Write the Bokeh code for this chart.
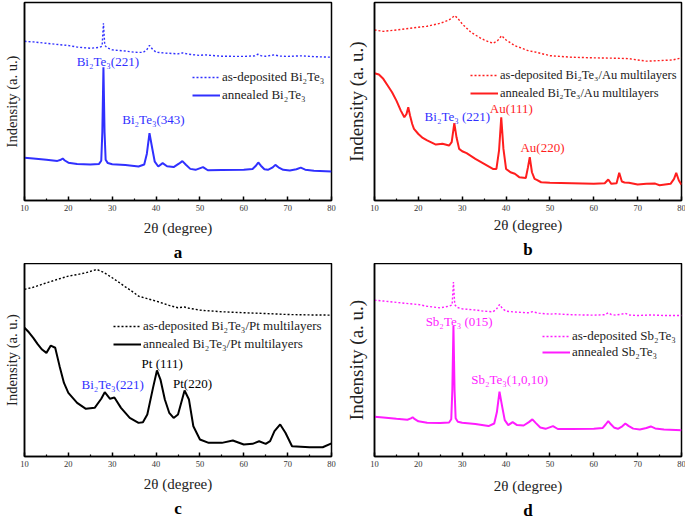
from bokeh.plotting import figure
from bokeh.models import Range1d, FixedTicker, Label, Legend, LegendItem, Title
from bokeh.layouts import column, row
from bokeh.embed import file_html
from bokeh.resources import INLINE

SERIF = "Liberation Serif"

X_TICKS = [10, 20, 30, 40, 50, 60, 70, 80]
X_MINOR = [15, 25, 35, 45, 55, 65, 75]
X_LABEL = "2θ (degree)"
Y_LABEL = "Indensity (a. u.)"

# ---------------- panel a : Bi2Te3 ----------------
a_dep_x = [10, 12, 15, 18, 20, 22, 25, 27, 27.7, 28.0, 28.3, 28.8, 30, 33, 35, 37, 37.8, 38.5, 39.2, 40, 42, 45, 46, 47.5, 50, 51, 55, 60, 62.5, 63.2, 64, 65, 67, 68, 70, 73, 76, 80]
a_dep_y = [80.5, 80.2, 79.5, 78.8, 78.4, 77.6, 77.0, 77.4, 78.0, 89.6, 78.5, 77.3, 76.2, 75.6, 75.0, 74.9, 76.0, 78.4, 76.5, 75.0, 74.6, 74.2, 74.7, 74.0, 73.4, 73.7, 73.0, 72.9, 73.2, 74.0, 73.2, 73.0, 73.7, 73.1, 72.9, 73.2, 72.8, 72.5]
a_ann_x = [10, 12, 15, 17.5, 18.3, 18.7, 19.2, 20, 22, 25, 27, 27.5, 27.75, 28.0, 28.25, 28.5, 29, 30, 33, 36, 37.3, 37.9, 38.5, 39.1, 39.7, 40.5, 41.5, 42.5, 44, 45.2, 46, 46.8, 47.8, 49, 50.7, 51.8, 55, 60, 62, 62.7, 63.3, 63.9, 64.7, 65.5, 66.5, 67.2, 67.9, 69, 70.5, 72, 73, 74, 76, 80]
a_ann_y = [22.0, 21.6, 21.0, 20.4, 21.0, 21.6, 20.6, 19.5, 18.9, 18.6, 18.9, 20.5, 35.0, 67.5, 35.0, 21.0, 19.3, 18.7, 18.3, 17.6, 18.6, 24.0, 34.3, 27.0, 20.0, 17.6, 19.3, 17.7, 17.3, 19.0, 20.3, 18.5, 16.4, 15.9, 17.3, 15.7, 15.8, 15.9, 16.3, 17.8, 19.6, 18.0, 16.2, 15.9, 17.0, 18.4, 17.2, 15.9, 15.6, 16.2, 17.0, 16.0, 15.5, 15.1]
a_legend = ["as-deposited Bi₂Te₃", "annealed Bi₂Te₃"]
a_notes = ["Bi₂Te₃(221)", "Bi₂Te₃(343)"]
a_notes_x = [29.0, 39.4]
a_notes_y = [70.6, 41.1]

# ---------------- panel b : Bi2Te3/Au ----------------
b_dep_x = [10, 12, 15, 18, 20, 22, 25, 27, 28.3, 29, 30, 32, 34, 35, 37, 38, 39, 40, 42, 45, 47, 50, 55, 60, 65, 68, 70, 72, 75, 78, 80]
b_dep_y = [86.4, 85.7, 86.4, 87.2, 87.8, 88.3, 89.8, 91.5, 93.7, 92.3, 89.5, 85.2, 82.5, 81.3, 79.6, 80.8, 83.5, 81.3, 78.4, 75.9, 75.0, 73.3, 72.5, 72.2, 72.0, 71.8, 71.1, 70.5, 70.8, 71.1, 72.2]
b_ann_x = [10, 11, 12, 13, 14, 15, 16, 16.8, 17.3, 17.7, 18.1, 18.6, 19, 20, 21, 22, 24, 25.5, 27, 27.6, 28.2, 28.7, 29.3, 30, 31, 33, 35, 37, 37.8, 38.4, 38.9, 39.4, 40, 41, 42, 43, 44.5, 45.0, 45.4, 45.9, 46.5, 47, 48, 50, 55, 60, 62.5, 63.3, 64, 65.2, 65.8, 66.4, 67, 68, 70, 72, 74, 75, 77.5, 78.3, 78.8, 79.4, 80]
b_ann_y = [64.3, 63.7, 61.5, 58.1, 54.7, 50.4, 45.3, 41.9, 43.6, 47.0, 42.8, 38.5, 36.0, 33.4, 31.4, 30.1, 28.0, 28.4, 27.5, 29.2, 38.9, 31.7, 25.8, 24.6, 23.6, 20.7, 18.2, 15.6, 15.6, 25.0, 41.9, 25.8, 15.6, 13.9, 13.1, 11.4, 11.0, 16.5, 21.6, 13.9, 10.5, 10.0, 8.8, 8.5, 8.3, 8.0, 8.3, 10.2, 8.0, 8.3, 13.6, 9.2, 8.7, 8.5, 7.6, 8.0, 8.1, 7.3, 8.0, 10.5, 13.6, 9.7, 7.6]
b_legend = ["as-deposited Bi₂Te₃/Au multilayers", "annealed Bi₂Te₃/Au multilayers"]
b_notes = ["Bi₂Te₃ (221)", "Au(111)", "Au(220)"]
b_notes_x = [28.9, 41.2, 48.3]
b_notes_y = [42.4, 46.2, 26.5]

# ---------------- panel c : Bi2Te3/Pt ----------------
c_dep_x = [10, 12, 15, 18, 20, 22, 24, 26.5, 28, 30, 33, 35, 36, 38, 40, 43, 45, 46.5, 47, 50, 55, 60, 65, 70, 75, 80]
c_dep_y = [85.7, 86.8, 89.0, 91.1, 92.4, 93.2, 94.1, 95.8, 94.4, 91.6, 87.0, 84.0, 82.3, 81.0, 79.8, 77.6, 76.4, 76.8, 76.4, 75.2, 74.4, 73.9, 73.5, 73.0, 72.8, 72.7]
c_ann_x = [10, 11, 12, 13, 14, 15, 16, 17, 18, 19, 20, 22, 24, 26, 27.5, 28.3, 29.5, 30.5, 32, 34, 36, 37, 38, 39.3, 40.2, 41, 42, 43, 44, 45, 46.5, 47.5, 48.5, 50, 52, 55, 57.5, 60, 62, 63.5, 65, 66, 67, 68.3, 69.5, 71, 75, 78, 80]
c_ann_y = [66.3, 64.0, 61.2, 58.0, 55.3, 53.6, 57.3, 56.2, 46.9, 38.4, 33.4, 28.3, 25.3, 25.8, 30.4, 33.7, 30.4, 31.0, 25.8, 20.7, 18.2, 18.5, 22.4, 35.9, 44.7, 40.1, 30.0, 23.3, 20.7, 22.4, 34.6, 30.0, 16.5, 9.8, 8.1, 8.1, 9.3, 7.3, 7.6, 8.9, 7.6, 9.0, 14.0, 17.4, 13.2, 6.4, 5.9, 5.9, 7.8]
c_legend = ["as-deposited Bi₂Te₃/Pt multilayers", "annealed Bi₂Te₃/Pt multilayers"]
c_notes = ["Bi₂Te₃(221)", "Pt (111)", "Pt(220)"]
c_notes_x = [30.1, 41.4, 48.3]
c_notes_y = [37.6, 48.2, 38.1]

# ---------------- panel d : Sb2Te3 ----------------
d_dep_x = [10, 12, 15, 18, 20, 22, 25, 27, 27.7, 28.0, 28.3, 28.8, 30, 33, 35, 37, 37.8, 38.5, 39.2, 40, 42, 45, 46, 47.5, 50, 51, 55, 60, 62.5, 63.3, 64, 65, 67.2, 68, 70, 73, 76, 80]
d_dep_y = [80.6, 80.2, 79.5, 78.8, 78.4, 77.5, 76.7, 77.6, 78.2, 89.8, 78.3, 77.0, 76.2, 75.6, 75.0, 74.7, 76.0, 78.4, 76.3, 75.0, 74.6, 74.2, 74.7, 74.0, 73.5, 73.7, 73.2, 73.0, 73.2, 74.2, 73.3, 73.0, 73.9, 73.1, 72.8, 73.1, 72.8, 72.8]
d_ann_x = [10, 12, 15, 17.5, 18.3, 18.7, 19.2, 20, 22, 25, 27, 27.5, 27.75, 28.0, 28.25, 28.5, 29, 30, 33, 36, 37.3, 37.9, 38.5, 39.1, 39.7, 40.5, 41.5, 42.5, 44, 45.2, 46, 46.8, 47.8, 49, 50.7, 51.8, 55, 60, 62, 62.7, 63.3, 63.9, 64.7, 65.5, 66.5, 67.2, 67.9, 69, 70.5, 72, 73, 74, 76, 80]
d_ann_y = [21.2, 20.9, 20.2, 19.7, 20.4, 21.0, 20.0, 18.9, 18.2, 18.0, 18.3, 20.0, 35.0, 67.4, 35.0, 20.5, 18.7, 18.2, 17.5, 16.5, 17.8, 23.5, 34.0, 26.5, 19.5, 17.0, 18.5, 17.0, 16.8, 18.5, 19.9, 18.0, 15.8, 15.1, 16.5, 15.0, 15.0, 15.1, 15.5, 17.3, 19.0, 17.4, 15.6, 15.1, 16.4, 17.8, 16.6, 15.2, 14.8, 15.5, 16.3, 15.3, 14.8, 14.4]
d_legend = ["as-deposited Sb₂Te₃", "annealed Sb₂Te₃"]
d_notes = ["Sb₂Te₃ (015)", "Sb₂Te₃(1,0,10)"]
d_notes_x = [29.3, 40.8]
d_notes_y = [69.6, 40.2]

BLUE = "#3030ff"
RED = "#ff1e1e"
BLACK = "#000000"
MAGENTA = "#ff1cff"

FRAME_W = 307


def make_panel(letter, dep_x, dep_y, ann_x, ann_y, color, legend_labels,
               notes, notes_x, notes_y, note_colors, y_range, frame_h,
               left, right, top, ylab_size, ylab_standoff, xlab_standoff,
               legend_x, legend_y1, legend_y2, legend_size):
    p = figure(frame_width=FRAME_W, frame_height=frame_h,
               x_range=Range1d(10, 80), y_range=Range1d(*y_range),
               output_backend="svg", toolbar_location=None,
               min_border_left=left, min_border_right=right,
               min_border_top=top, min_border_bottom=0)
    p.grid.visible = False
    p.outline_line_color = "black"
    p.outline_line_width = 1.5
    p.outline_line_alpha = 1

    r_dep = p.line(dep_x, dep_y, line_color=color, line_width=1.4, line_dash="2 2")
    r_ann = p.line(ann_x, ann_y, line_color=color, line_width=2)

    xa = p.xaxis[0]
    xa.ticker = FixedTicker(ticks=X_TICKS, minor_ticks=X_MINOR)
    xa.major_tick_in = 4
    xa.major_tick_out = 0
    xa.minor_tick_in = 2
    xa.minor_tick_out = 0
    xa.major_tick_line_width = 1.5
    xa.minor_tick_line_width = 1.2
    xa.axis_line_width = 1.5
    xa.major_label_text_font = SERIF
    xa.major_label_text_font_size = "8.5px"
    xa.major_label_text_color = "#333333"
    xa.major_label_standoff = 4
    xa.axis_label = X_LABEL
    xa.axis_label_text_font = SERIF
    xa.axis_label_text_font_size = "15px"
    xa.axis_label_text_font_style = "normal"
    xa.axis_label_text_color = "#222222"
    xa.axis_label_standoff = xlab_standoff

    ya = p.yaxis[0]
    ya.ticker = FixedTicker(ticks=[])
    ya.major_label_standoff = 0
    ya.major_tick_out = 0
    ya.major_tick_in = 0
    ya.axis_line_width = 1.5
    ya.axis_label = Y_LABEL
    ya.axis_label_text_font = SERIF
    ya.axis_label_text_font_size = ylab_size
    ya.axis_label_text_font_style = "normal"
    ya.axis_label_text_color = "#222222"
    ya.axis_label_standoff = ylab_standoff

    for t, x, y, c in zip(notes, notes_x, notes_y, note_colors):
        p.add_layout(Label(x=x, y=y, text=t, text_font=SERIF, text_font_size="13px",
                           text_color=c, text_align="center", text_baseline="middle"))

    for lab, rend, ly in ((legend_labels[0], r_dep, legend_y1),
                          (legend_labels[1], r_ann, legend_y2)):
        legend = Legend(items=[LegendItem(label=lab, renderers=[rend])],
                        location=(legend_x, ly), glyph_width=28, glyph_height=16,
                        label_standoff=2, spacing=0, padding=0, margin=0,
                        label_text_font=SERIF, label_text_font_size=legend_size,
                        label_text_color="#222222", label_height=16,
                        border_line_alpha=0, background_fill_alpha=0)
        p.add_layout(legend, "center")

    p.add_layout(Title(text=letter, align="center", text_font=SERIF,
                       text_font_size="17px", text_font_style="bold",
                       text_color="black", standoff=4), "below")
    return p


pa = make_panel("a", a_dep_x, a_dep_y, a_ann_x, a_ann_y, BLUE, a_legend,
                a_notes, a_notes_x, a_notes_y, [BLUE, BLUE], (0.5, 100), 198,
                22, 11, 2, "14.5px", 5, 6, 168, 115, 97, "13px")
pb = make_panel("b", b_dep_x, b_dep_y, b_ann_x, b_ann_y, RED, b_legend,
                b_notes, b_notes_x, b_notes_y, [BLUE, RED, RED], (-0.5, 100.4), 198,
                32, 6, 2, "19px", 8, 3, 96, 117, 99, "12.5px")
pc = make_panel("c", c_dep_x, c_dep_y, c_ann_x, c_ann_y, BLACK, c_legend,
                c_notes, c_notes_x, c_notes_y, [BLUE, BLACK, BLACK], (1.2, 98.8), 193,
                22, 11, 0, "14.5px", 5, 6, 89, 122, 104, "13px")
pd_ = make_panel("d", d_dep_x, d_dep_y, d_ann_x, d_ann_y, MAGENTA, d_legend,
                 d_notes, d_notes_x, d_notes_y, [MAGENTA, MAGENTA], (1.0, 99.3), 193,
                 32, 6, 0, "19px", 8, 8, 168, 112, 96, "13px")

layout = column(row(pa, pb), row(pc, pd_))
open("out.html", "w").write(file_html(layout, INLINE))
